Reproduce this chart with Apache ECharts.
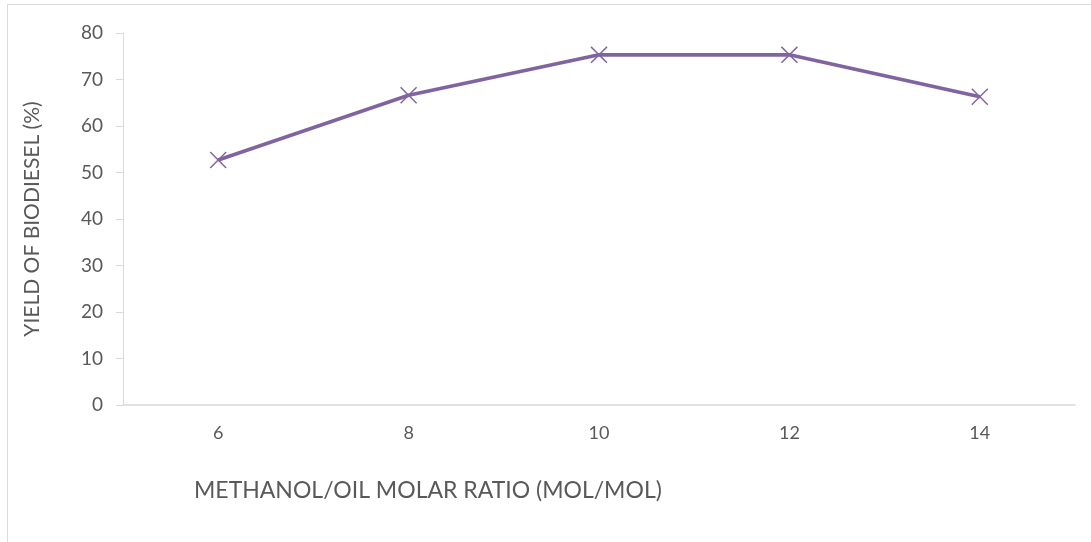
<!DOCTYPE html>
<html>
<head>
<meta charset="utf-8">
<script src="https://cdn.jsdelivr.net/npm/echarts@6/dist/echarts.min.js"></script>
<style>html,body{margin:0;padding:0;background:#fff;}#c{width:1091px;height:542px;}</style>
</head>
<body>
<div id="c"></div>
<script>
const categories = ['6', '8', '10', '12', '14'];
const yieldValues = [52.7, 66.6, 75.3, 75.3, 66.3];
const yTicks = [0, 10, 20, 30, 40, 50, 60, 70, 80];

const FONT = 'Lato';
const chart = echarts.init(document.getElementById('c'));
const xMark = 'path://M0,6L6,0L50,44L94,0L100,6L56,50L100,94L94,100L50,56L6,100L0,94L44,50Z';
chart.setOption({
  animation: false,
  backgroundColor: '#fff',
  title: {
    text: 'METHANOL/OIL MOLAR RATIO (MOL/MOL)',
    left: 189, top: 474,
    textStyle: {fontFamily: FONT, fontSize: 23, fontWeight: 'normal', color: '#595959'}
  },
  graphic: [{
    type: 'rect', shape: {x: 7.5, y: 4.5, width: 1100, height: 560},
    style: {fill: 'none', stroke: '#d9d9d9', lineWidth: 1}, silent: true
  }],
  grid: {left: 123, right: 16, top: 33, bottom: 137},
  xAxis: {
    type: 'category', data: categories, boundaryGap: true,
    axisLine: {lineStyle: {color: '#d9d9d9', width: 1.5}},
    axisTick: {show: false},
    axisLabel: {fontFamily: FONT, fontSize: 18, color: '#595959', margin: 19}
  },
  yAxis: {
    type: 'value', min: yTicks[0], max: yTicks[yTicks.length - 1], interval: 10,
    name: 'YIELD OF BIODIESEL (%)', nameLocation: 'middle', nameGap: 80,
    nameTextStyle: {fontFamily: FONT, fontSize: 21, color: '#595959'},
    axisLine: {show: true, lineStyle: {color: '#d9d9d9', width: 1}},
    axisTick: {show: true, length: 7, lineStyle: {color: '#d9d9d9'}},
    splitLine: {show: false},
    axisLabel: {fontFamily: FONT, fontSize: 19, color: '#595959', margin: 20}
  },
  series: [{
    type: 'line', data: yieldValues,
    lineStyle: {color: '#8064A2', width: 3.6},
    itemStyle: {color: '#8064A2'},
    symbol: xMark, symbolSize: 17, showSymbol: true
  }]
});
</script>
</body>
</html>
